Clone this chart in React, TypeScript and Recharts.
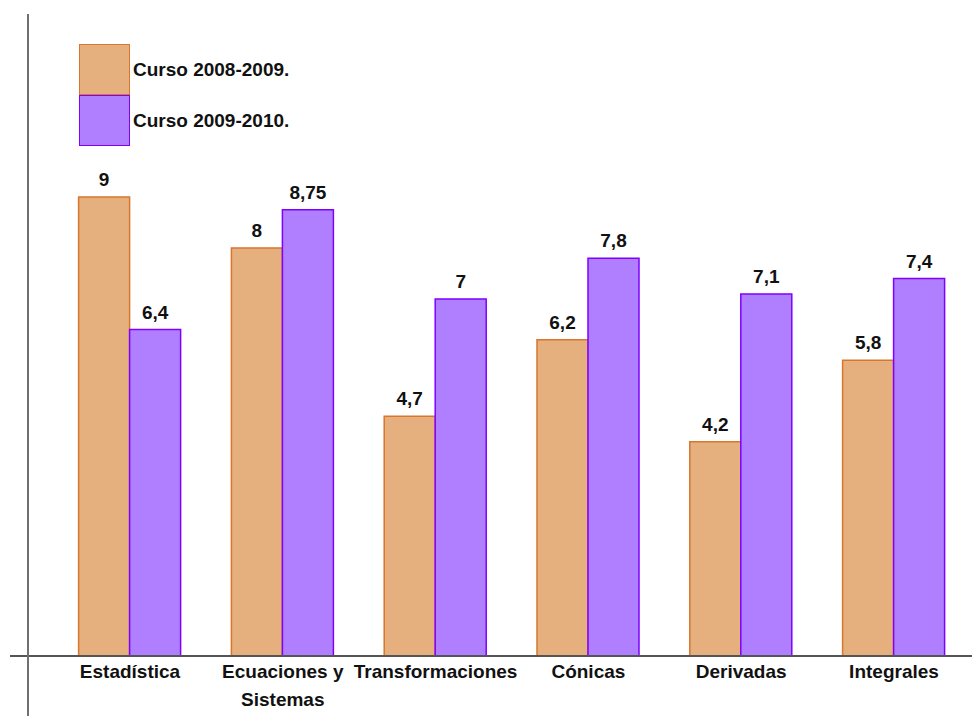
import { BarChart, Bar, XAxis, YAxis, LabelList } from 'recharts';

const categories = [
  'Estadística',
  'Ecuaciones y\nSistemas',
  'Transformaciones',
  'Cónicas',
  'Derivadas',
  'Integrales',
];
const curso0809 = [9, 8, 4.7, 6.2, 4.2, 5.8];
const curso0910 = [6.4, 8.75, 7, 7.8, 7.1, 7.4];

const SERIES = [
  { key: 'a', label: 'Curso 2008-2009.', fill: '#E5B07E', stroke: '#D9762C' },
  { key: 'b', label: 'Curso 2009-2010.', fill: '#B07FFF', stroke: '#7F00FF' },
] as const;

const data = categories.map((name, i) => ({ name, a: curso0809[i], b: curso0910[i] }));

const FONT = '"Liberation Sans", Arial, sans-serif';
const FS = 19;

// números con coma decimal
const fmt = (v: unknown) => String(v).replace('.', ',');

function CategoryTick({ x, y, payload }: any) {
  const lines = String(payload.value).split('\n');
  return (
    <text x={x} y={y} textAnchor="middle" fontFamily={FONT} fontWeight="bold" fontSize={FS} fill="#111">
      {lines.map((l, i) => (
        <tspan key={i} x={x} dy={i === 0 ? 14 : 28}>{l}</tspan>
      ))}
    </text>
  );
}

function LegendBoxes() {
  return (
    <div style={{
      position: 'absolute', left: 79, top: 44,
      fontFamily: FONT, fontWeight: 'bold', fontSize: FS, color: '#111',
    }}>
      {SERIES.map(s => (
        <div key={s.key} style={{ display: 'flex', alignItems: 'center', height: 51 }}>
          <div style={{
            width: 49, height: 49, background: s.fill, border: `1px solid ${s.stroke}`,
          }} />
          <span style={{ marginLeft: 3 }}>{s.label}</span>
        </div>
      ))}
    </div>
  );
}

export default function App() {
  return (
    <div style={{ position: 'absolute', left: 0, top: 0, width: 972, height: 716, background: '#fff' }}>
      <BarChart
        width={972}
        height={716}
        data={data}
        margin={{ top: 44, right: 0, left: 10, bottom: 0 }}
        barSize={51}
        barGap={0}
      >
        <XAxis
          dataKey="name"
          height={60}
          axisLine={{ stroke: '#555', strokeWidth: 2 }}
          tickLine={false}
          tick={<CategoryTick />}
          interval={0}
          padding={{ left: 43.6, right: 1.6 }}
        />
        <YAxis hide domain={[0, 12]} />
        {SERIES.map(s => (
          <Bar
            key={s.key}
            dataKey={s.key}
            name={s.label}
            fill={s.fill}
            stroke={s.stroke}
            strokeWidth={1.5}
            isAnimationActive={false}
          >
            <LabelList
              dataKey={s.key}
              position="top"
              offset={11}
              formatter={fmt}
              style={{ fontFamily: FONT, fontWeight: 'bold', fontSize: FS, fill: '#111' }}
            />
          </Bar>
        ))}
      </BarChart>
      <LegendBoxes />
      <div style={{ position: 'absolute', left: 27, top: 14, width: 2, height: 702, background: '#707070' }} />
    </div>
  );
}
